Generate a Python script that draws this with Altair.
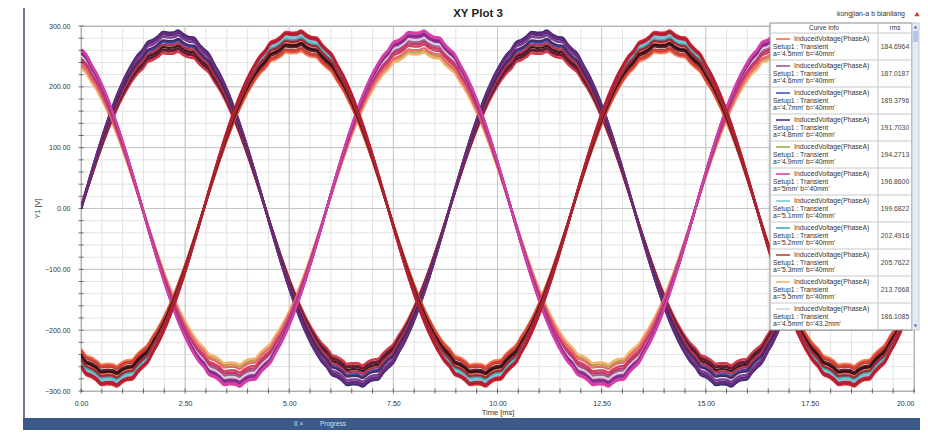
import altair as alt
import pandas as pd

# ---------------- data ----------------
period_ms = 8.85  # electrical period (zero crossings every ~1.475 ms)

# one half-wave of the normalised induced-voltage shape, 0..180 deg in 5 deg steps
half_wave = [0.000, 0.102, 0.202, 0.299, 0.392, 0.480, 0.562, 0.638, 0.706, 0.766,
             0.819, 0.864, 0.896, 0.940, 0.952, 0.972, 0.998, 0.993, 0.994, 1.006,
             0.984, 0.970, 0.966, 0.930, 0.900, 0.872, 0.817, 0.766, 0.706, 0.638,
             0.562, 0.480, 0.392, 0.299, 0.202, 0.102, 0.000]

# curves: legend entries first (as visible in the legend), then the scrolled-out ones
curve_names = [
    "a='4.5mm' b='40mm'", "a='4.6mm' b='40mm'", "a='4.7mm' b='40mm'", "a='4.8mm' b='40mm'",
    "a='4.9mm' b='40mm'", "a='5mm' b='40mm'", "a='5.1mm' b='40mm'", "a='5.2mm' b='40mm'",
    "a='5.3mm' b='40mm'", "a='5.5mm' b='40mm'", "a='4.5mm' b='43.2mm'",
    "a='5.4mm' b='40mm'", "a='4.5mm' b='41mm'", "a='4.5mm' b='42mm'", "a='4.5mm' b='43mm'",
    "a='4.6mm' b='41mm'", "a='4.6mm' b='42mm'", "a='4.6mm' b='43mm'", "a='4.7mm' b='41mm'",
    "a='4.7mm' b='42mm'", "a='4.7mm' b='43mm'", "a='4.8mm' b='41mm'", "a='4.8mm' b='42mm'",
    "a='4.8mm' b='43mm'", "a='4.9mm' b='41mm'", "a='4.9mm' b='42mm'", "a='4.9mm' b='43mm'",
    "a='5mm' b='41mm'", "a='5mm' b='42mm'", "a='5mm' b='43mm'", "a='5.1mm' b='41mm'",
    "a='5.1mm' b='42mm'", "a='5.1mm' b='43mm'", "a='5.2mm' b='41mm'", "a='5.2mm' b='42mm'",
    "a='5.2mm' b='43mm'",
]
curve_phase = ["C", "B", "A", "A", "B", "B", "C", "C", "C", "B", "B",
               "A", "A", "A", "A", "A", "C", "C", "C", "B", "B", "A", "C", "B",
               "A", "A", "A", "A", "B", "B", "B", "B", "C", "C", "C", "C"]
curve_peak = [272, 276, 274, 287, 258, 291, 283, 279, 262, 255, 279,
              291, 266, 260, 281, 283, 291, 267, 287, 287, 268, 256, 257, 283,
              262, 270, 277, 289, 262, 272, 285, 289, 260, 270, 276, 289]
curve_colors = ["#F26B4C", "#9C5A8E", "#3B55C8", "#5A2D82", "#A9A845", "#E33FA2",
                "#74C9D9", "#3FAFB0", "#B4433C", "#F9B16E", "#D2D2DA",
                "#2C2C70", "#3C1A1E", "#8C2433", "#E6E6EE", "#7A3E94", "#E02A3A",
                "#6E1C28", "#C42046", "#8E3A9E", "#D4405A", "#D23A48", "#F08A6A", "#B03090",
                "#5E1E3A", "#B83248", "#4A2A60", "#6A2A7A", "#E86A70", "#C03A70", "#7E2E8E",
                "#D040A8", "#D84030", "#2E1418", "#A02838", "#B0202E"]

legend_rms = ["184.6964", "187.0187", "189.3796", "191.7030", "194.2713", "196.8600",
              "199.6822", "202.4916", "205.7622", "213.7668", "186.1085"]

x_major = [0.0, 2.5, 5.0, 7.5, 10.0, 12.5, 15.0, 17.5, 20.0]
y_major = [-300, -200, -100, 0, 100, 200, 300]
x_minor = [0.5 * i for i in range(41)]
y_minor = [-300 + 20 * i for i in range(31)]

# ---------------- build tables ----------------
full_wave = half_wave[:36] + [-v for v in half_wave[:36]]
n_per = len(full_wave)
shift = {"A": 0, "B": n_per // 3, "C": 2 * n_per // 3}
step = period_ms / n_per
n_steps = int(20.0 / step) + 2
rec = []
for name, ph, pk in zip(curve_names, curve_phase, curve_peak):
    for k in range(n_steps):
        rec.append({"t": k * step, "v": pk * full_wave[(k + shift[ph]) % n_per], "curve": name})
curves_df = pd.DataFrame(rec)

legend_df = pd.DataFrame({
    "row": list(range(len(legend_rms))),
    "curve": curve_names[:len(legend_rms)],
    "rms": legend_rms,
    "l1": ["InducedVoltage(PhaseA)"] * len(legend_rms),
    "l2": ["Setup1 : Transient"] * len(legend_rms),
})

FONT = "Liberation Sans"
one = pd.DataFrame({"k": [0]})

xs = alt.Scale(domain=[0, 20], nice=False, zero=False)
ys = alt.Scale(domain=[-300, 300], nice=False)
cs = alt.Scale(domain=curve_names, range=curve_colors)

x_axis = alt.Axis(values=x_major, format=".2f", title="Time [ms]", tickSize=0, labelPadding=8,
                  labelFontSize=7, labelColor="#333", titleFontSize=7.5, titleFontWeight="normal",
                  titleColor="#333", titleY=21, titleBaseline="middle", domainColor="#555",
                  grid=False, labelFlush=False,
                  labelAlign=alt.expr("datum.value >= 20 ? 'right' : 'center'"))
y_axis = alt.Axis(values=y_major, format=".2f", title="Y1 [V]", tickSize=0, labelPadding=11,
                  labelFontSize=7, labelColor="#333", titleFontSize=7.5, titleFontWeight="normal",
                  titleColor="#333", titleX=-44, titleY=182, titleAngle=-90, titleAlign="center",
                  titleBaseline="middle", domainColor="#555", grid=False, labelFlush=False)

X = lambda f: alt.X(f, scale=xs, axis=x_axis)
Y = lambda f: alt.Y(f, scale=ys, axis=y_axis)

# ---------------- plot layers ----------------
gx_minor = alt.Chart(pd.DataFrame({"t": x_minor})).mark_rule(color="#E3E3E3", strokeWidth=1).encode(x=X("t:Q"))
gy_minor = alt.Chart(pd.DataFrame({"v": y_minor})).mark_rule(color="#E3E3E3", strokeWidth=1).encode(y=Y("v:Q"))
gx_major = alt.Chart(pd.DataFrame({"t": x_major})).mark_rule(color="#C6C6C6", strokeWidth=1).encode(x=X("t:Q"))
gy_major = alt.Chart(pd.DataFrame({"v": y_major})).mark_rule(color="#C6C6C6", strokeWidth=1).encode(y=Y("v:Q"))

lines = alt.Chart(curves_df).mark_line(clip=True, strokeWidth=2.4, interpolate="monotone").encode(
    x=X("t:Q"), y=Y("v:Q"),
    color=alt.Color("curve:N", scale=cs, legend=None),
)

ticks_x = alt.Chart(pd.DataFrame({"t": x_minor})).mark_tick(color="#333", size=5, thickness=1).encode(
    x=X("t:Q"), y=alt.value(365))
ticks_y = alt.Chart(pd.DataFrame({"v": y_minor})).mark_tick(color="#333", size=5, thickness=1).encode(
    y=Y("v:Q"), x=alt.value(0))

# decorations (window frame, title, status bar)
frame = alt.Chart(one).mark_rule(color="#6D7A90", strokeWidth=2).encode(
    x=alt.value(-57), y=alt.value(-18), y2=alt.value(404))
status = alt.Chart(one).mark_rect(color="#3B5A87").encode(
    x=alt.value(-58), x2=alt.value(839), y=alt.value(392), y2=alt.value(404))
status_txt = alt.Chart(one).mark_text(font=FONT, fontSize=6.5, color="#D8E0EE", align="left").encode(
    x=alt.value(239), y=alt.value(398), text=alt.value("Progress"))
status_icons = alt.Chart(one).mark_text(font=FONT, fontSize=6.5, color="#D8E0EE", align="left").encode(
    x=alt.value(213), y=alt.value(398), text=alt.value("II   \u00d7"))
title = alt.Chart(one).mark_text(font=FONT, fontSize=11.5, fontWeight="bold", color="#222").encode(
    x=alt.value(397), y=alt.value(-12), text=alt.value("XY Plot 3"))
subtitle = alt.Chart(one).mark_text(font=FONT, fontSize=7, color="#333", align="right").encode(
    x=alt.value(824), y=alt.value(-12), text=alt.value("kongjian-a b bianliang"))
warn = alt.Chart(one).mark_point(shape="triangle-up", filled=True, color="#D23A2A", size=28, opacity=1).encode(
    x=alt.value(836), y=alt.value(-12))

main = alt.layer(gx_minor, gy_minor, gx_major, gy_major, lines, ticks_x, ticks_y,
                 frame, status, status_txt, status_icons, title, subtitle, warn)

# ---------------- legend table ----------------
ry = alt.Y("row:Q", scale=alt.Scale(domain=[0, 1], range=[7, 34], zero=False, nice=False), axis=None)
lg_box = alt.Chart(one).mark_rect(fill="white", stroke="#8A8A8A", strokeWidth=1).encode(
    x=alt.value(689), x2=alt.value(831), y=alt.value(-3), y2=alt.value(304))
lg_col = alt.Chart(one).mark_rule(color="#C8C8C8").encode(
    x=alt.value(797), y=alt.value(-3), y2=alt.value(304))
lg_head1 = alt.Chart(one).mark_text(font=FONT, fontSize=6.5, color="#333").encode(
    x=alt.value(743), y=alt.value(2), text=alt.value("Curve Info"))
lg_head2 = alt.Chart(one).mark_text(font=FONT, fontSize=6.5, color="#333").encode(
    x=alt.value(814), y=alt.value(2), text=alt.value("rms"))
lg_div = alt.Chart(legend_df).mark_rule(color="#C8C8C8").encode(
    y=ry, x=alt.value(689), x2=alt.value(831))
lg_sample = alt.Chart(legend_df).mark_rule(strokeWidth=1.6, yOffset=6).encode(
    y=ry, x=alt.value(695), x2=alt.value(709),
    color=alt.Color("curve:N", scale=cs, legend=None))
lg_t1 = alt.Chart(legend_df).mark_text(font=FONT, fontSize=6.8, color="#333", align="left", dy=6).encode(
    y=ry, x=alt.value(713), text="l1:N")
lg_t2 = alt.Chart(legend_df).mark_text(font=FONT, fontSize=6.8, color="#333", align="left", dy=13.5).encode(
    y=ry, x=alt.value(692), text="l2:N")
lg_t3 = alt.Chart(legend_df).mark_text(font=FONT, fontSize=6.8, color="#333", align="left", dy=21).encode(
    y=ry, x=alt.value(692), text="curve:N")
lg_rms = alt.Chart(legend_df).mark_text(font=FONT, fontSize=6.8, color="#444", dy=13.5).encode(
    y=ry, x=alt.value(814), text="rms:N")
sb_track = alt.Chart(one).mark_rect(fill="#E6EAF1", stroke="#B4BCCB", strokeWidth=0.8).encode(
    x=alt.value(831), x2=alt.value(838), y=alt.value(-3), y2=alt.value(304))
sb_thumb = alt.Chart(one).mark_rect(fill="#AFC7EA").encode(
    x=alt.value(832), x2=alt.value(837), y=alt.value(5), y2=alt.value(16))
sb_up = alt.Chart(one).mark_point(shape="triangle-up", filled=True, color="#3A6FD0", size=12, opacity=1).encode(
    x=alt.value(834.5), y=alt.value(1))
sb_dn = alt.Chart(one).mark_point(shape="triangle-down", filled=True, color="#3A6FD0", size=12, opacity=1).encode(
    x=alt.value(834.5), y=alt.value(300))

legend = alt.layer(lg_box, lg_col, lg_head1, lg_head2, lg_div, lg_sample, lg_t1, lg_t2, lg_t3, lg_rms,
                   sb_track, sb_thumb, sb_up, sb_dn)

chart = alt.layer(main, legend).resolve_scale(y="independent").properties(
    width=833, height=365,
    autosize=alt.AutoSizeParams(type="none"),
    padding={"left": 73, "top": 18, "right": 6, "bottom": 39},
    background="white",
).configure_view(stroke="#6A6A6A", strokeWidth=1).configure_axis(
    labelFont=FONT, titleFont=FONT, grid=False)

chart.save("out.html", embed_options={"renderer": "svg", "actions": False})
